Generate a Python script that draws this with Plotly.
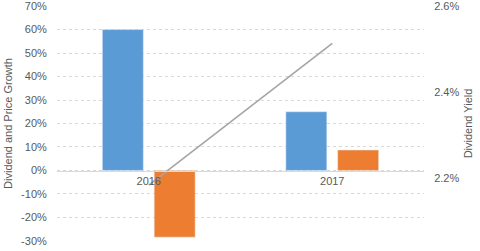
import plotly.graph_objects as go

years = ["2016", "2017"]
dividend_growth = [60, 25]
price_growth = [-28.4, 8.7]
dividend_yield = [2.184, 2.514]
left_ticks = [-30, -20, -10, 0, 10, 20, 30, 40, 50, 60, 70]
right_ticks = [2.2, 2.4, 2.6]

left_labels = [f"{v}%" for v in left_ticks]
right_labels = [f"{v:.1f}%" for v in right_ticks]

font_color = "#595959"
fig = go.Figure()
fig.add_trace(go.Bar(x=years, y=dividend_growth, marker_color="#5B9BD5", name="Dividend Growth"))
fig.add_trace(go.Bar(x=years, y=price_growth, marker_color="#ED7D31", name="Price Growth"))
fig.add_trace(go.Scatter(x=years, y=dividend_yield, mode="lines", yaxis="y2",
                         line=dict(color="#A5A5A5", width=1.6), name="Dividend Yield"))

fig.update_layout(
    width=480, height=251,
    margin=dict(l=57, r=56, t=6, b=10),
    paper_bgcolor="white", plot_bgcolor="white",
    showlegend=False,
    barmode="group", bargap=0.435, bargroupgap=0.21,
    font=dict(family="Liberation Sans, Arial", size=11, color=font_color),
    xaxis=dict(anchor="free", position=0.3, showline=True, linecolor="#D9D9D9", linewidth=1,
               ticks="", showgrid=False, zeroline=False, automargin=False,
               tickfont=dict(size=11, color=font_color)),
    yaxis=dict(range=[-30.05, 70.05], tickmode="array", tickvals=left_ticks, ticktext=left_labels,
               showgrid=True, gridcolor="#D9D9D9", griddash="dot", zeroline=False, automargin=False,
               ticks="outside", ticklen=7, tickcolor="rgba(0,0,0,0)", ticklabeloverflow="allow",
               title=dict(text="Dividend and Price Growth", font=dict(size=11, color=font_color), standoff=6)),
    yaxis2=dict(overlaying="y", side="right", range=[2.054, 2.601], tickmode="array",
                tickvals=right_ticks, ticktext=right_labels, showgrid=False, zeroline=False,
                automargin=False, ticks="outside", ticklen=7, tickcolor="rgba(0,0,0,0)",
                ticklabeloverflow="allow",
                title=dict(text="Dividend Yield", font=dict(size=11, color=font_color), standoff=5)),
)
fig.write_html("out.html")
